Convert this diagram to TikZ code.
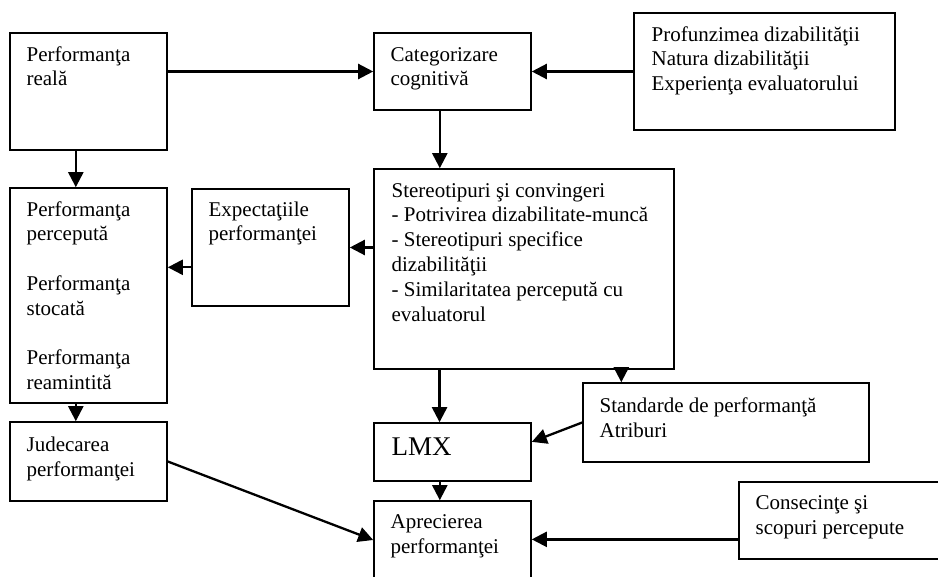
\documentclass[tikz,border=0pt]{standalone}
\usepackage{fontspec}
\setmainfont{Liberation Serif}
\usetikzlibrary{arrows.meta,calc}
\newcommand\boxtext[2][10.5pt]{\parbox[t]{300pt}{\raggedright\fontsize{#1}{12.4pt}\selectfont #2}}
\tikzset{
  box/.style={draw, line width=0.8pt, inner sep=0pt, minimum width=78.5pt},
  txt/.style={anchor=base west, inner sep=0pt},
  arr/.style={line width=1.15pt, -{Triangle[length=7.5pt,width=7.5pt]}},
}
\begin{document}
\begin{tikzpicture}[x=0.5pt,y=-0.5pt]
\useasboundingbox (0,0) rectangle (938,577);
\clip (0,0) rectangle (938,577);
% boxes
\node[box, minimum height=58.5pt] (real) at (88.5,91.5) {};
\node[box, minimum height=38.5pt] (cat) at (452.5,71.5) {};
\node[box, minimum width=130.5pt, minimum height=58.5pt] (prof) at (764.5,71.5) {};
\node[box, minimum height=107.5pt] (perc) at (88.5,295.5) {};
\node[box, minimum height=58.5pt] (exp) at (270.5,247.5) {};
\node[box, minimum width=150pt, minimum height=100pt] (ster) at (524,269) {};
\node[box, minimum height=39.5pt] (jud) at (88.5,461.5) {};
\node[box, minimum height=29pt] (lmx) at (452.5,452) {};
\node[box, minimum width=143pt, minimum height=39.5pt] (std) at (726,422.5) {};
\node[box, minimum height=39pt] (apr) at (452.5,540) {};
\node[box, minimum width=103pt, minimum height=38.5pt] (cons) at (842,520.5) {};
% texts
\node[txt] (realt) at ([shift={(8.5pt,-14.5pt)}]real.north west) {\boxtext{Performanţa\\reală}};
\node[txt] (catt) at ([shift={(8.5pt,-14.5pt)}]cat.north west) {\boxtext{Categorizare\\cognitivă}};
\node[txt] (proft) at ([shift={(9pt,-14.5pt)}]prof.north west) {\boxtext{Profunzimea dizabilităţii\\Natura dizabilităţii\\Experienţa evaluatorului}};
\node[txt] (perct) at ([shift={(8.5pt,-14.5pt)}]perc.north west) {\boxtext{Performanţa\\percepută\\[12.4pt]Performanţa\\stocată\\[12.4pt]Performanţa\\reamintită}};
\node[txt] (expt) at ([shift={(8.5pt,-14pt)}]exp.north west) {\boxtext{Expectaţiile\\performanţei}};
\node[txt] (stert) at ([shift={(9pt,-14.5pt)}]ster.north west) {\boxtext{Stereotipuri şi convingeri\\- Potrivirea dizabilitate-muncă\\- Stereotipuri specifice\\dizabilităţii\\- Similaritatea percepută cu\\evaluatorul}};
\node[txt] (judt) at ([shift={(8.5pt,-15pt)}]jud.north west) {\boxtext{Judecarea\\performanţei}};
\node[txt] (lmxt) at ([shift={(9pt,-16.5pt)}]lmx.north west) {\boxtext[13.5pt]{LMX}};
\node[txt] (stdt) at ([shift={(8.5pt,-15pt)}]std.north west) {\boxtext{Standarde de performanţă\\Atriburi}};
\node[txt] (aprt) at ([shift={(8.5pt,-14pt)}]apr.north west) {\boxtext{Aprecierea\\performanţei}};
\node[txt] (const) at ([shift={(8.5pt,-14pt)}]cons.north west) {\boxtext{Consecinţe şi\\scopuri percepute}};
% connectors
\draw[arr] (cat.west -| real.east) -- (cat.west);
\draw[arr] (prof.west) -- (cat.east);
\coordinate (ca) at ($(cat.south west)!0.42!(cat.south east)$);
\draw[arr] (ca) -- (ca |- ster.north);
\coordinate (ra) at ($(real.south west)!0.42!(real.south east)$);
\draw[arr] (ra) -- (ra |- perc.north);
\coordinate (pa) at ($(perc.south west)!0.42!(perc.south east)$);
\draw[arr] (pa) -- (pa |- jud.north);
\draw[arr] (exp.east -| ster.west) -- (exp.east);
\coordinate (ea) at ($(exp.north west)!0.667!(exp.south west)$);
\draw[arr] (ea) -- (ea -| perc.east);
\coordinate (sa) at ($(ster.south west)!0.22!(ster.south east)$);
\draw[arr] (sa) -- (sa |- lmx.north);
\coordinate (sb) at ($(std.north west)!0.136!(std.north east)$);
\draw[arr] (sb |- ster.south) -- (sb);
\draw[arr] (std.west) -- ($(lmx.north east)!0.33!(lmx.south east)$);
\coordinate (la) at ($(lmx.south west)!0.42!(lmx.south east)$);
\draw[arr] (la) -- (la |- apr.north);
\draw[arr] (jud.east) -- (apr.west);
\coordinate (ka) at ($(cons.north west)!0.74!(cons.south west)$);
\draw[arr] (ka) -- (ka -| apr.east);
\end{tikzpicture}
\end{document}
